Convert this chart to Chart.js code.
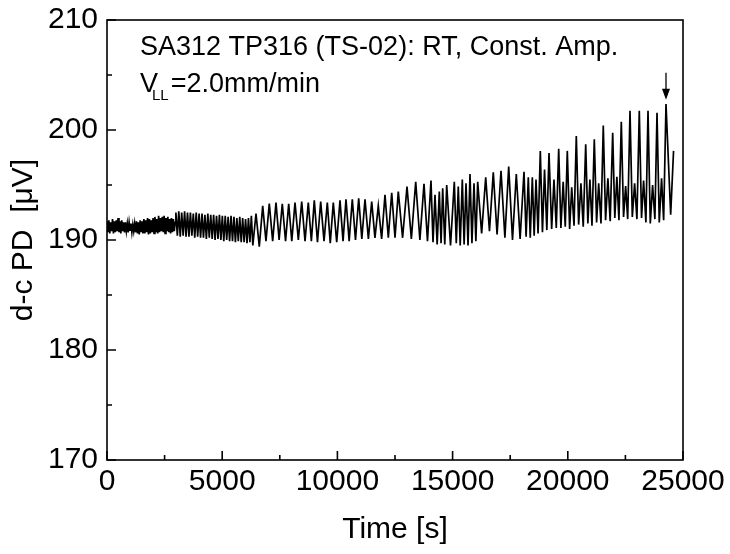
<!DOCTYPE html>
<html><head><meta charset="utf-8">
<script src="https://cdn.jsdelivr.net/npm/chart.js@4.4.1/dist/chart.umd.min.js"></script>
<style>html,body{margin:0;padding:0;background:#fff}canvas{display:block}</style>
</head><body>
<canvas id="c" width="730" height="554"></canvas>
<script>
const xTicks = [0, 5000, 10000, 15000, 20000, 25000];
const xMinorTicks = [2500, 7500, 12500, 17500, 22500];
const yTicks = [170, 180, 190, 200, 210];
const yMinorTicks = [175, 185, 195, 205];

// 0–2960 s: noisy band (sampled every 40 s)
const noiseStart = 0, noiseStep = 40;
const noiseVals = [
  191.7,190.7,191.8,190.6,191.6,190.8,191.9,190.6,191.7,190.7,
  191.8,190.8,192.0,190.7,191.7,190.6,191.8,190.8,191.6,190.7,
  191.6,190.8,191.5,190.7,191.6,190.9,191.5,190.7,191.4,190.8,
  191.5,190.7,191.7,190.6,191.6,190.5,191.8,190.7,191.7,190.6,
  191.9,190.6,191.8,190.7,192.0,190.5,191.9,190.6,191.8,190.7,
  192.0,190.6,192.1,190.7,191.9,190.6,192.2,190.7,192.0,190.8,
  192.1,190.7,192.2,190.6,192.0,190.8,192.1,190.7,191.9,190.6,
  192.0,190.7,191.9,190.8,191.6
];

// ~3000–6330 s: fast oscillation (peak/trough every 63 s)
const fastStart = 2990, fastStep = 63;
const fastPeaks = [192.5,192.6,192.5,192.6,192.5,192.5,192.4,192.5,192.4,192.4,192.3,192.4,192.3,192.3,192.2,192.3,192.2,192.2,192.1,192.2,192.1,192.0,192.1,192.0,191.9,192.0,192.2];
const fastTroughs = [190.4,190.3,190.4,190.3,190.3,190.4,190.2,190.3,190.2,190.2,190.1,190.2,190.1,190.0,190.1,190.0,189.9,190.0,189.9,189.9,189.8,189.9,189.8,189.8,189.7,189.8,189.5];

// 6467 s onwards: slow cycles (turning points)
const slowTimes = [
  6467,6610,6758,6900,7044,7190,7335,7470,7608,7750,7886,8020,8160,8305,8451,8595,8737,8870,8997,9135,
  9275,9420,9562,9690,9822,9970,10113,10245,10373,10510,10647,10785,10924,11060,11198,11345,11489,11630,11775,11920,
  12066,12210,12357,12500,12643,12830,
  13021,13210,13399,13580,13759,13910,14062,14150,14236,14330,14423,14500,14570,14660,14744,14910,15074,15160,15247,15330,
  15421,15500,15582,15670,15755,15840,15929,16010,16089,16260,16437,16600,16766,16930,17101,17270,17435,17600,17765,17930,
  18099,18190,18286,18370,18460,18540,18620,18710,
  18807,18900,18990,19090,19184,19300,19400,19500,19605,19700,19800,19890,19978,20080,20170,20270,20369,20470,20570,20670,
  20777,20870,20960,21050,21150,21250,21340,21440,21540,21640,21740,21840,21948,22040,22130,22220,22322,22420,22510,22600,
  22700,22800,22900,23000,23103,23200,23290,23390,23481,23580,23680,23780,23872,23970,24070,24160,24262,24465,24590
];
const slowVals = [
  192.4,189.4,193.1,189.9,193.3,189.9,193.4,190.0,193.3,189.9,193.3,189.9,193.4,190.0,193.5,189.9,193.4,189.9,193.6,189.8,
  193.5,189.9,193.4,189.7,193.4,189.8,193.6,189.9,193.7,189.9,193.7,190.0,193.8,190.1,193.7,190.1,193.5,190.2,193.1,190.1,
  194.1,190.2,194.3,190.2,194.4,190.2,
  194.85,190.1,195.3,190.0,195.1,189.9,195.4,189.8,194.1,189.6,194.4,189.7,194.7,189.6,195.0,189.5,195.3,189.7,194.85,189.5,
  195.5,189.6,195.15,189.5,196.0,189.7,195.15,189.9,195.3,190.6,195.7,190.8,196.15,190.5,196.3,190.2,196.67,190.0,196.0,190.1,
  196.2,190.3,195.7,190.2,195.7,190.4,195.5,190.6,
  198.1,190.7,196.4,190.9,197.9,191.0,195.5,191.1,198.3,191.1,195.3,191.2,198.1,191.0,194.8,191.3,199.45,191.4,195.15,191.2,
  198.7,191.5,195.5,191.3,199.15,191.6,195.15,191.5,200.4,191.8,195.6,191.7,199.75,192.0,195.75,191.8,200.75,192.1,194.9,191.9,
  201.75,192.1,195.15,191.9,201.75,192.0,195.4,191.6,201.75,191.5,195.0,191.9,201.57,191.6,195.6,191.8,202.36,192.3,198.1
];

const arrowTime = 24262, arrowFrom = 205.2, arrowTo = 202.75;
const noteLine1 = "SA312 TP316 (TS-02): RT, Const. Amp.";
const noteV = "V", noteSub = "LL", noteRest = "=2.0mm/min";
const xTitle = "Time [s]";
const yTitle = "d-c PD  [\u03BCV]";

const points = [];
noiseVals.forEach((v, i) => points.push({x: noiseStart + i * noiseStep, y: v}));
fastPeaks.forEach((p, i) => {
  points.push({x: fastStart + 2 * i * fastStep, y: p});
  points.push({x: fastStart + (2 * i + 1) * fastStep, y: fastTroughs[i]});
});
slowTimes.forEach((t, i) => points.push({x: t, y: slowVals[i]}));

const FONT = "'Liberation Sans', Arial, sans-serif";

const decor = {
  id: 'decor',
  afterDraw(chart) {
    const {ctx, chartArea: a, scales: {x, y}} = chart;
    ctx.save();
    ctx.strokeStyle = '#000';
    ctx.lineWidth = 1.6;
    ctx.strokeRect(a.left, a.top, a.right - a.left, a.bottom - a.top);
    ctx.beginPath();
    xTicks.forEach(v => { const p = x.getPixelForValue(v); ctx.moveTo(p, a.bottom); ctx.lineTo(p, a.bottom - 9); });
    xMinorTicks.forEach(v => { const p = x.getPixelForValue(v); ctx.moveTo(p, a.bottom); ctx.lineTo(p, a.bottom - 5); });
    yTicks.forEach(v => { const p = y.getPixelForValue(v); ctx.moveTo(a.left, p); ctx.lineTo(a.left + 9, p); });
    yMinorTicks.forEach(v => { const p = y.getPixelForValue(v); ctx.moveTo(a.left, p); ctx.lineTo(a.left + 5, p); });
    ctx.stroke();

    // arrow
    const ax = x.getPixelForValue(arrowTime);
    const y1 = y.getPixelForValue(arrowFrom), y2 = y.getPixelForValue(arrowTo);
    ctx.lineWidth = 1.3;
    ctx.beginPath(); ctx.moveTo(ax, y1); ctx.lineTo(ax, y2 - 8); ctx.stroke();
    ctx.fillStyle = '#000';
    ctx.beginPath(); ctx.moveTo(ax - 4, y2 - 11); ctx.lineTo(ax + 4, y2 - 11); ctx.lineTo(ax, y2); ctx.closePath(); ctx.fill();

    // annotation
    ctx.textBaseline = 'alphabetic';
    ctx.textAlign = 'left';
    ctx.font = "27px " + FONT;
    const tx = a.left + 33;
    ctx.fillText(noteLine1, tx, a.top + 35);
    ctx.fillText(noteV, tx, a.top + 72);
    const vw = ctx.measureText(noteV).width;
    ctx.font = "15px " + FONT;
    const sx = tx + vw - 6;
    ctx.fillText(noteSub, sx, a.top + 80);
    const sw = ctx.measureText(noteSub).width;
    ctx.font = "27px " + FONT;
    ctx.fillText(noteRest, sx + sw + 2, a.top + 72);
    ctx.restore();
  }
};

new Chart(document.getElementById('c'), {
  type: 'line',
  data: { datasets: [{ data: points, borderColor: '#000', borderWidth: 1.7, pointRadius: 0, tension: 0, fill: false }] },
  options: {
    responsive: false, animation: false,
    layout: { padding: { top: 20, right: 47, left: 0, bottom: 0 } },
    plugins: { legend: { display: false }, tooltip: { enabled: false } },
    scales: {
      x: {
        type: 'linear', min: 0, max: 25000,
        grid: { display: false, drawTicks: false }, border: { display: false },
        ticks: { stepSize: 5000, autoSkip: false, maxRotation: 0, padding: 4, color: '#000',
          font: { family: FONT, size: 30 }, callback: v => String(v) },
        title: { display: true, text: xTitle, color: '#000', font: { family: FONT, size: 30 }, padding: { top: 0, bottom: 6 } },
        afterFit: s => { s.height = 94; s.paddingLeft = 0; s.paddingRight = 0; }
      },
      y: {
        min: 170, max: 210,
        grid: { display: false, drawTicks: false }, border: { display: false },
        ticks: { stepSize: 10, padding: 9, color: '#000', font: { family: FONT, size: 30 }, callback: v => String(v) },
        title: { display: true, text: yTitle, color: '#000', font: { family: FONT, size: 30 }, padding: { top: 6, bottom: 0 } },
        afterFit: s => { s.width = 107; s.paddingTop = 0; s.paddingBottom = 0; }
      }
    }
  },
  plugins: [decor]
});
</script>
</body></html>
